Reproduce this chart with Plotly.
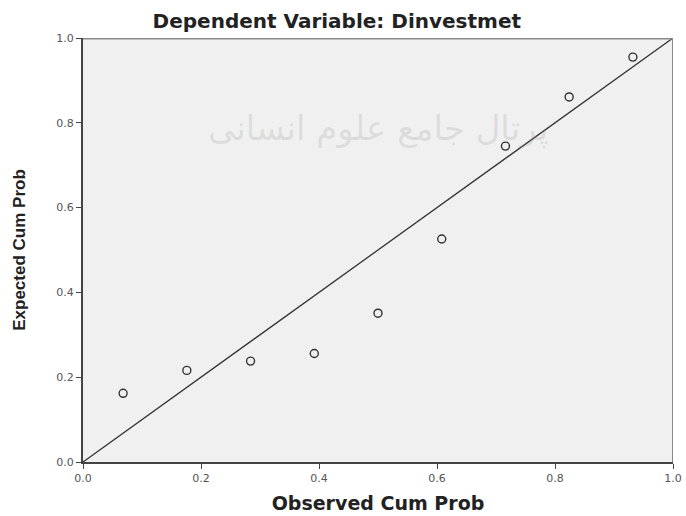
import plotly.graph_objects as go

observed = [0.068, 0.176, 0.284, 0.392, 0.500, 0.608, 0.716, 0.824, 0.932]
expected = [0.162, 0.216, 0.238, 0.256, 0.351, 0.526, 0.745, 0.861, 0.955]
ref_line = [0.0, 1.0]
tick_vals = [0.0, 0.2, 0.4, 0.6, 0.8, 1.0]
tick_text = ["0.0", "0.2", "0.4", "0.6", "0.8", "1.0"]

fig = go.Figure()
fig.add_trace(go.Scatter(x=ref_line, y=ref_line, mode="lines",
                         line=dict(color="#333333", width=1.3), hoverinfo="skip", showlegend=False))
fig.add_trace(go.Scatter(x=observed, y=expected, mode="markers",
                         marker=dict(symbol="circle-open", size=8, color="#333333", line=dict(width=1.4)),
                         showlegend=False))

axis_common = dict(range=[0, 1], tickvals=tick_vals, ticktext=tick_text, ticks="outside", ticklen=5,
                   tickcolor="#444444", showgrid=False, zeroline=False, showline=True, linecolor="#444444",
                   linewidth=2, automargin=False,
                   tickfont=dict(family="DejaVu Sans, sans-serif", size=11, color="#555555"))

fig.update_layout(
    width=686, height=516,
    margin=dict(l=83, r=13, t=38, b=54),
    paper_bgcolor="white", plot_bgcolor="#f0f0f0",
    xaxis=dict(**axis_common, mirror=False,
               title=dict(text="<b>Observed Cum Prob</b>", standoff=12,
                          font=dict(family="DejaVu Sans, sans-serif", size=19, color="#222222"))),
    yaxis=dict(**axis_common, mirror=False,
               title=dict(text="<b>Expected Cum Prob</b>", standoff=26,
                          font=dict(family="Arial, Liberation Sans, sans-serif", size=17, color="#222222"))),
    title=dict(text="<b>Dependent Variable: Dinvestmet</b>", x=0.491, xanchor="center", y=0.959, yanchor="middle",
               automargin=False,
               font=dict(family="DejaVu Sans, sans-serif", size=20, color="#222222")),
    shapes=[
        dict(type="line", xref="x", yref="y", x0=0, x1=1, y0=1, y1=1, line=dict(color="#8a8a8a", width=3)),
        dict(type="line", xref="x", yref="y", x0=1, x1=1, y0=0, y1=1, line=dict(color="#8a8a8a", width=2)),
    ],
    annotations=[
        dict(text="پرتال جامع علوم انسانی", xref="paper", yref="paper", x=0.5, y=0.84, showarrow=False,
             font=dict(family="DejaVu Sans, sans-serif", size=34, color="rgba(150,150,150,0.22)")),
    ],
)

fig.write_html("out.html", config={"displayModeBar": False},
               post_script="document.body.style.margin='0';")
